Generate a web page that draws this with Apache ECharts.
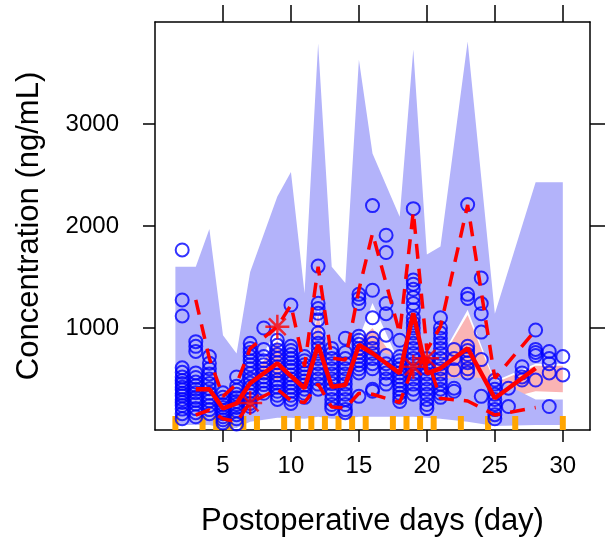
<!DOCTYPE html>
<html lang="en">
<head>
<meta charset="UTF-8">
<title>VPC</title>
<script src="https://cdn.jsdelivr.net/npm/echarts@6/dist/echarts.min.js"></script>
<style>
    html, body { margin: 0; padding: 0; background: #fff; }
    #main { width: 605px; height: 542px; }
</style>
</head>
<body>
<div id="main"></div>
<script>
// bin vertices of the prediction bands
var binX   = [1.5, 3, 4, 5, 6, 7, 9, 10, 11, 12, 13, 14, 15, 16, 18, 19, 20, 21, 23, 25, 28, 30];
var upHi   = [1600, 1600, 1970, 930, 750, 1550, 2290, 2530, 1340, 3790, 1600, 1440, 3630, 2710, 2090, 3730, 1720, 1800, 3810, 1140, 2430, 2430];
var upLo   = [420, 420, 420, 300, 300, 500, 1000, 520, 480, 1200, 480, 480, 900, 1245, 650, 560, 560, 700, 1180, 480, 650, 650];
var medHi  = [400, 400, 400, 280, 280, 480, 880, 500, 460, 1150, 460, 460, 880, 1000, 630, 540, 540, 680, 1127, 460, 630, 630];
var medLo  = [250, 250, 250, 180, 180, 250, 450, 350, 320, 600, 330, 330, 500, 550, 380, 400, 400, 480, 500, 280, 380, 370];
var lowHi  = [450, 450, 450, 320, 320, 520, 490, 560, 520, 1000, 520, 520, 700, 800, 700, 800, 600, 500, 520, 500, 300, 300];
var lowLo  = [50, 50, 50, 20, 20, 80, 120, 120, 110, 130, 110, 110, 130, 130, 130, 130, 120, 110, 80, 40, 50, 50];

// observed percentiles
var obsX   = [3, 4, 5, 6, 7, 9, 10, 11, 12, 13, 14, 15, 16, 18, 19, 20, 21, 23, 25, 28];
var obsMed = [399, 399, 212, 261, 458, 654, 529, 409, 833, 425, 441, 833, 752, 556, 1144, 556, 605, 801, 311, 605];
var obsP95 = [1275, 700, 330, 450, 800, 1013, 1225, 621, 1601, 706, 686, 1373, 1928, 948, 2140, 784, 1013, 2206, 507, 980];
var obsP05 = [147, 196, 110, 80, 265, 400, 290, 270, 450, 225, 215, 360, 350, 270, 621, 703, 310, 285, 147, 220];

// points outside the intervals
var starX = [9, 7, 19, 20];
var starY = [1013, 265, 621, 703];

// bin edges
var binEdges = [1.5, 3.5, 4.5, 5.5, 6.5, 7.5, 9.5, 10.5, 11.5, 12.5, 13.5, 14.5, 15.5, 17.5, 18.5, 19.5, 20.5, 22.5, 24.5, 26.5, 30];

// observations
var obsDays = [2, 3, 4, 5, 6, 7, 8, 9, 10, 11, 12, 13, 14, 15, 16, 17, 18, 19, 20, 21, 22, 23, 24, 25, 26, 27, 28, 29, 30];
var obsConc = [
    [1765, 1275, 1118, 610, 565, 520, 485, 455, 420, 395, 360, 335, 300, 270, 240, 205, 160, 110],
    [866, 820, 770, 560, 515, 470, 435, 400, 365, 320, 290, 255, 210, 170, 130],
    [720, 655, 600, 550, 500, 455, 405, 360, 320, 285, 240, 200, 160],
    [365, 320, 285, 250, 220, 190, 160, 130, 100, 70],
    [520, 430, 390, 350, 315, 280, 250, 220, 190, 150, 110, 60],
    [850, 800, 760, 720, 680, 640, 600, 555, 500, 460, 420, 380, 340, 300, 260, 230],
    [1000, 790, 720, 680, 640, 600, 560, 520, 480, 445, 400, 360],
    [880, 830, 785, 740, 700, 660, 620, 580, 540, 490, 460, 420, 380, 340, 300],
    [1225, 820, 780, 740, 700, 660, 620, 585, 540, 500, 460, 420, 380, 340, 300, 260],
    [720, 680, 640, 600, 560, 520, 480, 440, 400, 360, 320],
    [1607, 1242, 1190, 1144, 1080, 950, 900, 850, 800, 750, 700, 650, 600, 550, 500, 450, 400],
    [800, 750, 700, 650, 600, 550, 500, 455, 400, 350, 300, 250, 210],
    [900, 760, 700, 650, 600, 550, 500, 450, 400, 350, 300, 250, 200, 170],
    [1330, 1290, 1240, 920, 880, 840, 800, 760, 720, 680, 640, 600, 560, 330],
    [2200, 1370, 1100, 900, 850, 800, 750, 700, 650, 600, 400, 380],
    [1910, 1740, 1240, 1140, 930, 730, 650, 600, 560, 500, 450],
    [880, 720, 680, 640, 600, 560, 520, 480, 440, 400, 360, 320, 280],
    [2170, 1470, 1430, 1380, 1300, 1240, 1180, 1100, 1050, 1000, 950, 900, 850, 800, 750, 700, 650, 600, 550, 500, 450, 400, 350],
    [700, 650, 600, 550, 500, 450, 400, 350, 300, 250, 210],
    [1100, 1000, 950, 900, 850, 800, 750, 700, 650, 600, 550, 500, 450, 400, 360, 320],
    [790, 700, 590, 410, 380],
    [2210, 1330, 1290, 820, 780, 740, 700, 660, 600, 560],
    [1490, 1240, 1140, 960, 690, 330],
    [490, 450, 400, 350, 300, 250, 200, 150, 110],
    [410, 230],
    [620, 560, 520, 490],
    [980, 790, 760, 730, 490],
    [770, 700, 650, 560, 230],
    [720, 540]
];

var xTicks = [5, 10, 15, 20, 25, 30];
var yTicks = [1000, 2000, 3000];

var obsPoints = [];
obsDays.forEach(function (d, i) {
    obsConc[i].forEach(function (v) { obsPoints.push([d, v]); });
});

function pairs(xs, ys) {
    return xs.map(function (x, i) { return [x, ys[i]]; });
}

function band(lo, hi, color) {
    return {
        type: 'custom',
        silent: true,
        clip: true,
        data: [[binX[0], hi[0]]],
        renderItem: function (params, api) {
            var pts = [];
            for (var i = 0; i < binX.length; i++) pts.push(api.coord([binX[i], hi[i]]));
            for (var j = binX.length - 1; j >= 0; j--) pts.push(api.coord([binX[j], lo[j]]));
            return { type: 'polygon', shape: { points: pts }, style: { fill: color } };
        }
    };
}

var blue = '#b3b3fa', pink = '#fab4b4';
var font = 'Liberation Sans, Arial, sans-serif';
var plain = function (v) { return String(v); };

var myChart = echarts.init(document.getElementById('main'));
var option = {
    animation: false,
    backgroundColor: '#fff',
    grid: { left: 155, right: 15, top: 22, bottom: 112 },
    xAxis: [
        {
            type: 'value', min: 0, max: 32, position: 'bottom',
            name: 'Postoperative days (day)', nameLocation: 'middle', nameGap: 76,
            nameTextStyle: { fontSize: 31, color: '#000', fontFamily: font },
            axisLine: { show: true, onZero: false, lineStyle: { color: '#000', width: 1.5 } },
            axisTick: { show: true, length: 12, customValues: xTicks, lineStyle: { color: '#000', width: 1.5 } },
            axisLabel: { customValues: xTicks, formatter: plain, fontSize: 24, color: '#000', margin: 24, fontFamily: font },
            splitLine: { show: false }
        },
        {
            type: 'value', min: 0, max: 32, position: 'top',
            axisLine: { show: true, onZero: false, lineStyle: { color: '#000', width: 1.5 } },
            axisTick: { show: true, length: 17, customValues: xTicks, lineStyle: { color: '#000', width: 1.5 } },
            axisLabel: { show: false },
            splitLine: { show: false }
        }
    ],
    yAxis: [
        {
            type: 'value', min: 0, max: 4000, position: 'left',
            name: 'Concentration (ng/mL)', nameLocation: 'middle', nameGap: 110,
            nameTextStyle: { fontSize: 31, color: '#000', fontFamily: font },
            axisLine: { show: true, onZero: false, lineStyle: { color: '#000', width: 1.5 } },
            axisTick: { show: true, length: 12, customValues: yTicks, lineStyle: { color: '#000', width: 1.5 } },
            axisLabel: { customValues: yTicks, formatter: plain, fontSize: 24, color: '#000', margin: 36, fontFamily: font },
            splitLine: { show: false }
        },
        {
            type: 'value', min: 0, max: 4000, position: 'right',
            axisLine: { show: true, onZero: false, lineStyle: { color: '#000', width: 1.5 } },
            axisTick: { show: true, length: 16, customValues: yTicks, lineStyle: { color: '#000', width: 1.5 } },
            axisLabel: { show: false },
            splitLine: { show: false }
        }
    ],
    series: [
        band(medLo, medHi, pink),
        band(upLo, upHi, blue),
        band(lowLo, lowHi, blue),
        {
            type: 'scatter', data: obsPoints, symbol: 'circle', symbolSize: 13,
            itemStyle: { color: 'rgba(0,0,0,0)', borderColor: '#0000ff', borderWidth: 2 },
            silent: true
        },
        {
            type: 'line', data: pairs(obsX, obsMed), symbol: 'none',
            lineStyle: { color: '#ff0000', width: 4.5 }, silent: true
        },
        {
            type: 'line', data: pairs(obsX, obsP95), symbol: 'none',
            lineStyle: { color: '#ff0000', width: 3.5, type: [15, 10] }, silent: true
        },
        {
            type: 'line', data: pairs(obsX, obsP05), symbol: 'none',
            lineStyle: { color: '#ff0000', width: 3.5, type: [15, 10] }, silent: true
        },
        {
            type: 'scatter', data: pairs(starX, starY), silent: true,
            symbol: 'path://M10,0 L10,20 M0,10 L20,10 M3,3 L17,17 M17,3 L3,17',
            symbolSize: 24,
            itemStyle: { color: 'rgba(0,0,0,0)', borderColor: '#ff0000', borderWidth: 2.5 }
        },
        {
            type: 'custom', silent: true, clip: false,
            data: binEdges.map(function (x) { return [x, 0]; }),
            renderItem: function (params, api) {
                var p = api.coord([api.value(0), api.value(1)]);
                return {
                    type: 'line',
                    shape: { x1: p[0], y1: p[1], x2: p[0], y2: p[1] - 14 },
                    style: { stroke: '#ffa500', lineWidth: 6 }
                };
            }
        }
    ]
};
myChart.setOption(option);
</script>
</body>
</html>
